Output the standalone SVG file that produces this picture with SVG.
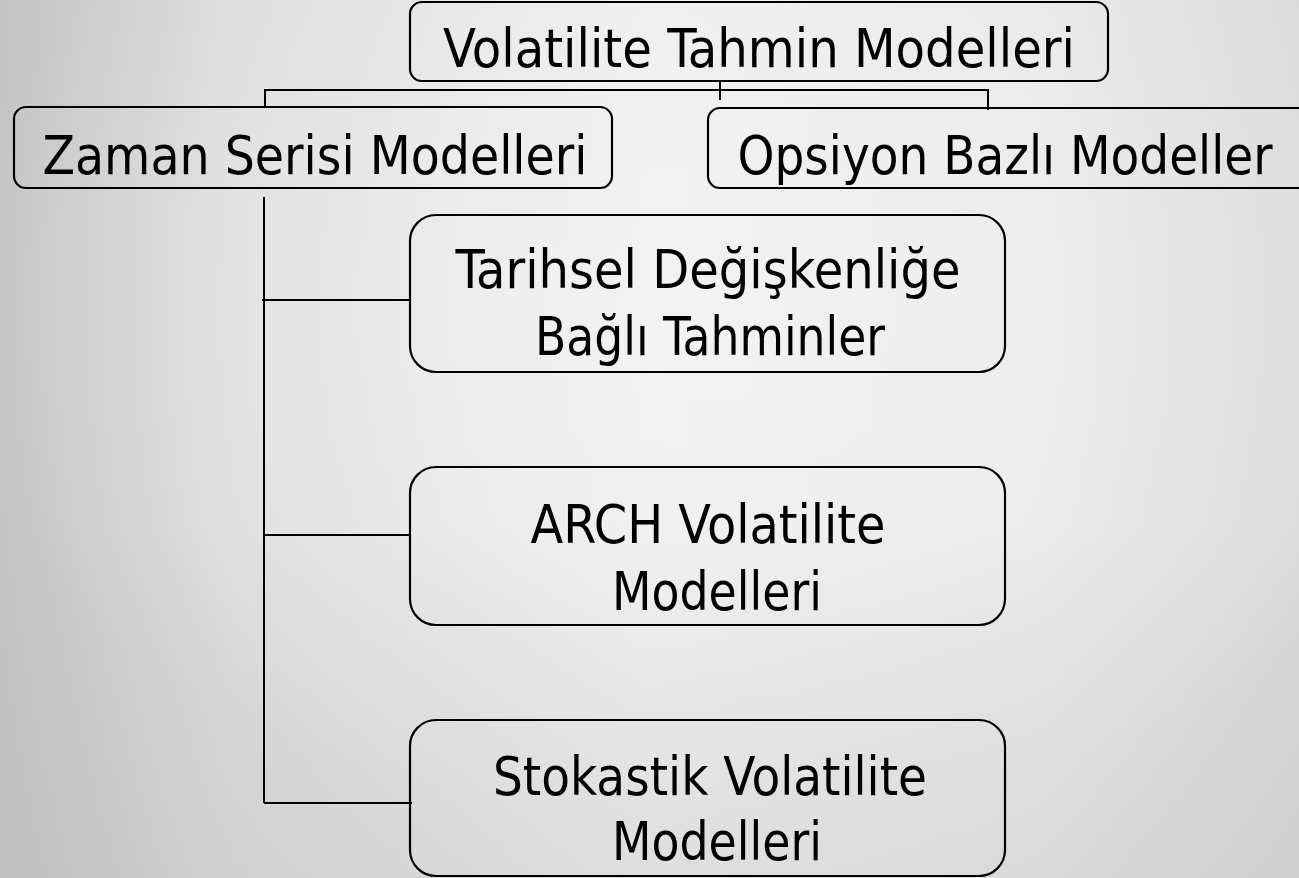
<svg xmlns="http://www.w3.org/2000/svg" width="1299" height="878" viewBox="0 0 1299 878">
<defs>
<linearGradient id="bg" x1="0" y1="0" x2="1" y2="0">
<stop offset="0" stop-color="#c4c4c4"/>
<stop offset="0.18" stop-color="#dcdcdc"/>
<stop offset="0.5" stop-color="#eeeeee"/>
<stop offset="0.8" stop-color="#e8e8e8"/>
<stop offset="1" stop-color="#dadada"/>
</linearGradient>
<radialGradient id="glow" cx="0.55" cy="0.35" r="0.6">
<stop offset="0" stop-color="#f6f6f6" stop-opacity="0.6"/>
<stop offset="1" stop-color="#f6f6f6" stop-opacity="0"/>
</radialGradient>
<linearGradient id="shade" x1="0" y1="0" x2="0" y2="1">
<stop offset="0.6" stop-color="#b0b0b0" stop-opacity="0"/>
<stop offset="1" stop-color="#b0b0b0" stop-opacity="0.25"/>
</linearGradient>
</defs>
<style>
.box{fill:none;stroke:#000;stroke-width:2.2}
.ln{fill:none;stroke:#000;stroke-width:2}
.t{font-family:"DejaVu Sans Condensed","DejaVu Sans",sans-serif;font-size:54px;fill:#000;text-anchor:middle}
</style>
<rect width="1299" height="878" fill="url(#bg)"/>
<rect width="1299" height="878" fill="url(#glow)"/>
<rect width="1299" height="878" fill="url(#shade)"/>
<g id="connectors">
<path class="ln" d="M720 81 V100"/>
<path class="ln" d="M265 108 V90 H988 V110"/>
<path class="ln" d="M264 197 V803"/>
<path class="ln" d="M262 300 H411"/>
<path class="ln" d="M264 535 H411"/>
<path class="ln" d="M264 803 H412"/>
</g>
<g id="n-root">
<rect class="box" x="410" y="2" width="698" height="79" rx="12"/>
<text class="t" x="759" y="67" textLength="632" lengthAdjust="spacingAndGlyphs">Volatilite Tahmin Modelleri</text>
</g>
<g id="n-zaman">
<rect class="box" x="14" y="107" width="598" height="81" rx="12"/>
<text class="t" x="315" y="174" textLength="545" lengthAdjust="spacingAndGlyphs">Zaman Serisi Modelleri</text>
</g>
<g id="n-opsiyon">
<rect class="box" x="708" y="108" width="640" height="80" rx="12"/>
<text class="t" x="1005" y="174" textLength="535" lengthAdjust="spacingAndGlyphs">Opsiyon Bazlı Modeller</text>
</g>
<g id="n-tarihsel">
<rect class="box" x="410" y="215" width="595" height="157" rx="26"/>
<text class="t" x="708" y="288" textLength="505" lengthAdjust="spacingAndGlyphs">Tarihsel Değişkenliğe</text>
<text class="t" x="710" y="355" textLength="350" lengthAdjust="spacingAndGlyphs">Bağlı Tahminler</text>
</g>
<g id="n-arch">
<rect class="box" x="410" y="467" width="595" height="158" rx="26"/>
<text class="t" x="708" y="543" textLength="355" lengthAdjust="spacingAndGlyphs">ARCH Volatilite</text>
<text class="t" x="717" y="610" textLength="210" lengthAdjust="spacingAndGlyphs">Modelleri</text>
</g>
<g id="n-stokastik">
<rect class="box" x="410" y="720" width="595" height="156" rx="26"/>
<text class="t" x="710" y="795" textLength="434" lengthAdjust="spacingAndGlyphs">Stokastik Volatilite</text>
<text class="t" x="717" y="860" textLength="210" lengthAdjust="spacingAndGlyphs">Modelleri</text>
</g>
</svg>
